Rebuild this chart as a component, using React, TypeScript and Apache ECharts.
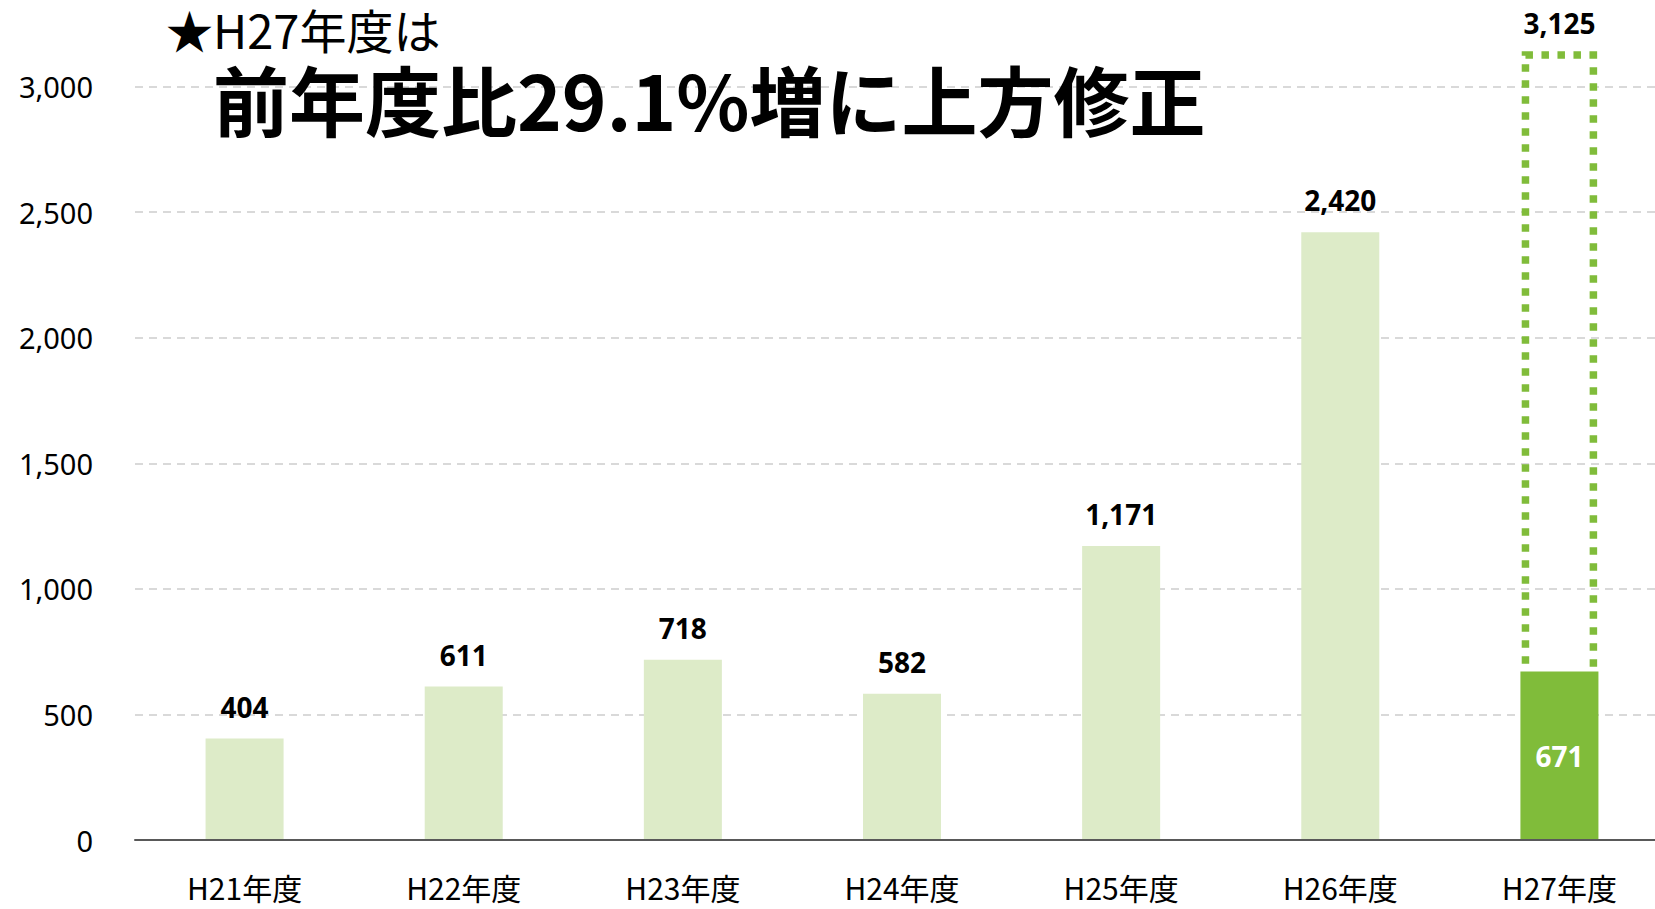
import React, { useEffect, useRef } from "react";
import * as echarts from "echarts";

const categories = ["H21年度", "H22年度", "H23年度", "H24年度", "H25年度", "H26年度", "H27年度"];
const actualValues = [404, 611, 718, 582, 1171, 2420, 671];
const revisedPlan: (number | null)[] = [null, null, null, null, null, null, 3125];
const highlightIndex = 6;
const yTicks = { min: 0, max: 3000, interval: 500 };
const titleLine1 = "★H27年度は";
const titleLine2 = "前年度比29.1%増に上方修正";

const LIGHT = "#DDEBC8";
const GREEN = "#80BC3A";
const NUM_FONT = "'Noto Sans', 'Noto Sans CJK JP', sans-serif";
const JP_FONT = "'Noto Sans CJK JP', 'Noto Sans', sans-serif";

const fmt = (v: number) => v.toLocaleString("en-US");

export default function App() {
  const ref = useRef<HTMLDivElement>(null);
  useEffect(() => {
    if (!ref.current) return;
    const chart = echarts.init(ref.current, undefined, { renderer: "svg" });
    const barData = actualValues.map((v, i) =>
      i === highlightIndex
        ? {
            value: v,
            itemStyle: { color: GREEN },
            label: { position: "inside", color: "#fff" },
          }
        : { value: v, itemStyle: { color: LIGHT } }
    );
    const planData = revisedPlan
      .map((v, i) => (v == null ? null : [i, v, actualValues[i]]))
      .filter((d) => d != null);
    chart.setOption({
      animation: false,
      grid: { left: 135, top: 86.5, width: 1534, height: 753.5, containLabel: false },
      graphic: [
        {
          type: "text",
          x: 166,
          y: 28,
          style: {
            text: titleLine1,
            fontSize: 47,
            fontFamily: JP_FONT,
            fill: "#000",
            verticalAlign: "middle",
          },
          z: 10,
        },
        {
          type: "text",
          x: 213,
          y: 98,
          style: {
            text: titleLine2,
            fontSize: 76,
            fontWeight: "bold",
            fontFamily: JP_FONT,
            fill: "#000",
            verticalAlign: "middle",
          },
          z: 10,
        },
      ],
      xAxis: {
        type: "category",
        data: categories,
        axisTick: { show: false },
        axisLine: { lineStyle: { color: "#595959", width: 2 } },
        axisLabel: { fontSize: 30, color: "#000", margin: 32, fontFamily: JP_FONT },
        z: 5,
      },
      yAxis: {
        type: "value",
        min: yTicks.min,
        max: yTicks.max,
        interval: yTicks.interval,
        axisLine: { show: false },
        axisTick: { show: false },
        axisLabel: {
          fontSize: 29,
          color: "#000",
          margin: 42,
          fontFamily: NUM_FONT,
          formatter: (v: number) => fmt(v),
        },
        splitLine: { lineStyle: { color: "#D9D9D9", width: 2, type: [8, 6] } },
      },
      series: [
        {
          type: "custom",
          z: 1,
          clip: false,
          encode: { x: 0, y: 1 },
          data: planData,
          renderItem: (params: any, api: any) => {
            const idx = api.value(0);
            const v = api.value(1);
            const actual = api.value(2);
            const top = api.coord([idx, v]);
            const base = api.coord([idx, actual]);
            const w = api.size([1, 0])[0] * 0.31;
            return {
              type: "group",
              children: [
                {
                  type: "rect",
                  shape: { x: top[0] - w / 2, y: top[1], width: w, height: base[1] - top[1] + 20 },
                  style: { fill: "none", stroke: GREEN, lineWidth: 7.5, lineDash: [7.5, 8.5] },
                },
                {
                  type: "text",
                  style: {
                    text: fmt(v),
                    x: top[0],
                    y: top[1] - 18,
                    align: "center",
                    verticalAlign: "bottom",
                    fontSize: 28,
                    fontWeight: "bold",
                    fontFamily: NUM_FONT,
                    fill: "#000",
                  },
                },
              ],
            };
          },
        },
        {
          type: "bar",
          z: 2,
          barWidth: "35.6%",
          data: barData,
          label: {
            show: true,
            position: "top",
            distance: 18,
            fontSize: 28,
            fontWeight: "bold",
            fontFamily: NUM_FONT,
            color: "#000",
            formatter: (p: any) => fmt(p.value),
          },
        },
      ],
    });
    return () => chart.dispose();
  }, []);
  return (
    <div
      style={{ position: "fixed", left: 0, top: 0, width: 1655, height: 909, overflow: "hidden", background: "#fff" }}
    >
      <div ref={ref} style={{ width: 1680, height: 909 }} />
    </div>
  );
}
